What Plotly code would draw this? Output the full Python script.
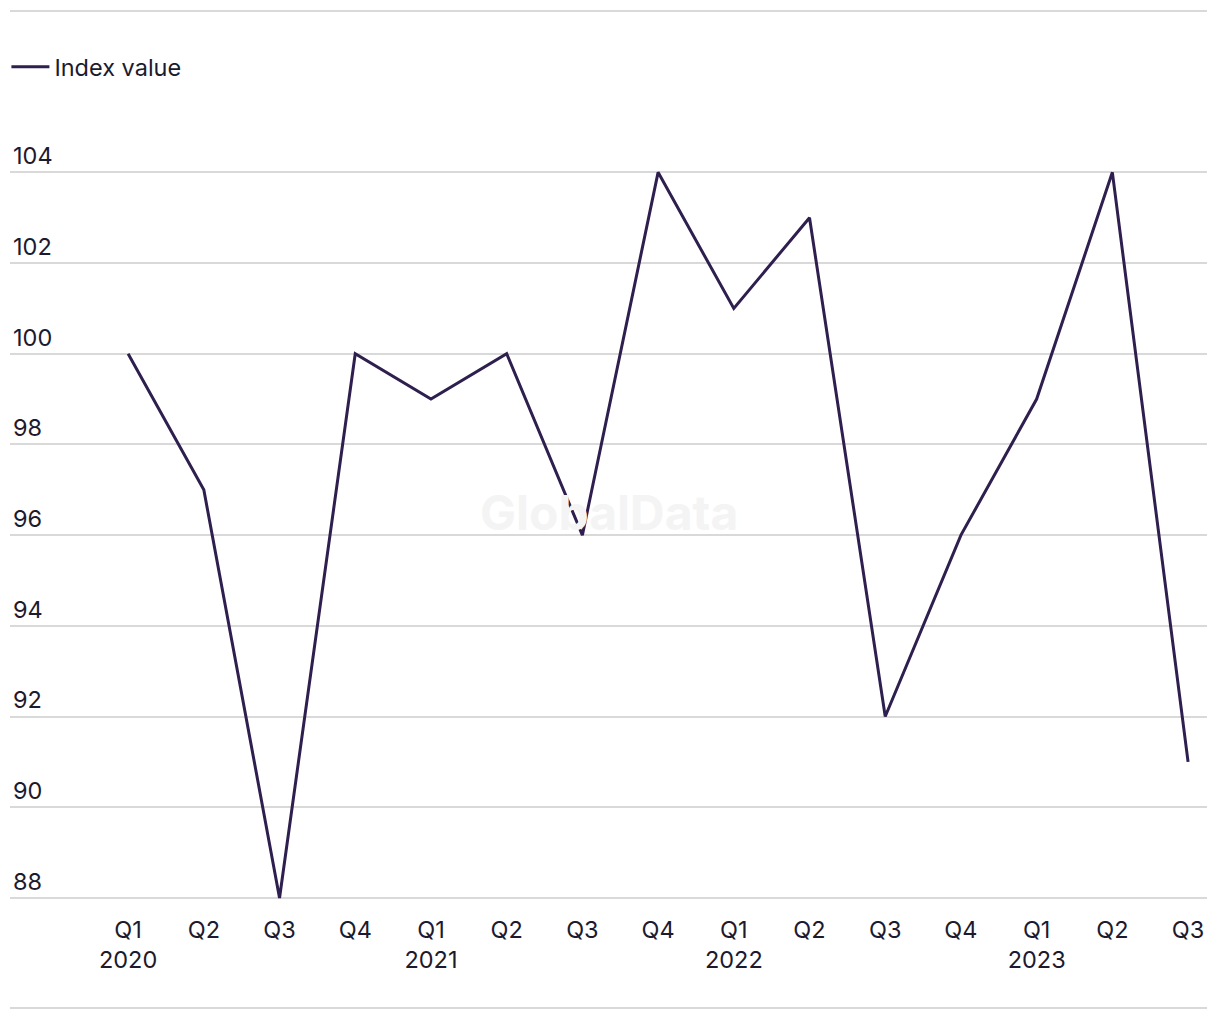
import plotly.graph_objects as go

quarters = ["Q1", "Q2", "Q3", "Q4", "Q1", "Q2", "Q3", "Q4", "Q1", "Q2", "Q3", "Q4", "Q1", "Q2", "Q3"]
years = ["2020", "", "", "", "2021", "", "", "", "2022", "", "", "", "2023", "", ""]
index_value = [100, 97, 88, 100, 99, 100, 96, 104, 101, 103, 92, 96, 99, 104, 91]
y_ticks = [88, 90, 92, 94, 96, 98, 100, 102, 104]

x_pos = list(range(len(quarters)))
tick_text = [q + ("<br>" + y if y else "") for q, y in zip(quarters, years)]

LINE = "#2e1f4f"
TEXT = "#1c1a2e"
GRID = "#d9d9d9"
FONT = "Inter, Roboto, sans-serif"
FS = 23.5

fig = go.Figure()
fig.add_trace(go.Scatter(
    x=x_pos, y=index_value, mode="lines", name="Index value",
    line=dict(color=LINE, width=3), cliponaxis=False,
))

fig.update_layout(
    width=1212, height=1012,
    margin=dict(l=2, r=13, t=119, b=113, autoexpand=False),
    paper_bgcolor="white", plot_bgcolor="white",
    font=dict(family=FONT, size=FS, color=TEXT),
    showlegend=True,
    legend=dict(x=-0.003, y=1.077, xanchor="left", yanchor="middle",
                orientation="h", font=dict(size=FS, color=TEXT),
                itemwidth=38, bgcolor="rgba(0,0,0,0)", borderwidth=0),
    xaxis=dict(range=[-1.56, 14.25], tickmode="array", tickvals=x_pos,
               ticktext=tick_text, showgrid=False, zeroline=False,
               showline=False, ticks="", ticklabelstandoff=6,
               tickfont=dict(size=FS, color=TEXT)),
    yaxis=dict(range=[87.8, 105], tickmode="array", tickvals=y_ticks,
               ticktext=[str(v) for v in y_ticks], showgrid=True,
               gridcolor=GRID, gridwidth=1.5, zeroline=False, showline=False,
               ticks="", ticklabelposition="inside top",
               tickfont=dict(size=FS, color=TEXT)),
)

for yp in (1.1487, -0.1295):
    fig.add_shape(type="line", xref="paper", yref="paper", x0=0, x1=1,
                  y0=yp, y1=yp, line=dict(color=GRID, width=2))

fig.add_annotation(text="<b>GlobalData</b>", xref="paper", yref="paper",
                   x=0.5, y=0.506, showarrow=False,
                   font=dict(size=48, color="#f4f4f4", family=FONT))

fig.write_html("out.html")
